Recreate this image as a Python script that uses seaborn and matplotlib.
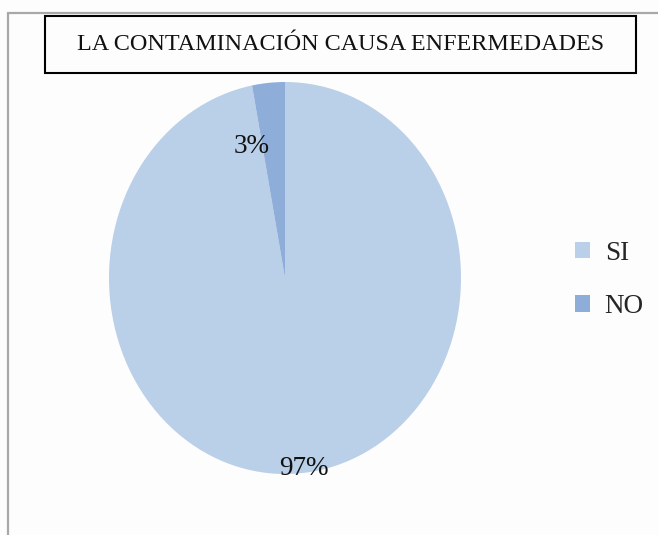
import matplotlib
matplotlib.use('Agg')
import matplotlib.pyplot as plt
import seaborn as sns
from matplotlib.patches import Rectangle

# datos del gráfico
categorias = ['SI', 'NO']
porcentajes = [97, 3]
etiquetas = ['97%', '3%']
titulo = 'LA CONTAMINACIÓN CAUSA ENFERMEDADES'

sns.set_theme(style='white')
plt.rcParams['font.family'] = ['Liberation Serif', 'DejaVu Serif']

colores = ['#bacfe8', '#8eaed9']

W, H = 658, 535
fig = plt.figure(figsize=(W / 100, H / 100), dpi=100)
fig.patch.set_facecolor('#fdfdfd')

# marco exterior gris (izquierda y arriba)
fig.add_artist(plt.Line2D([8 / W, 8 / W], [0, 1 - 13 / H], color='#a8a8a8', lw=1.6))
fig.add_artist(plt.Line2D([8 / W, 1], [1 - 13 / H, 1 - 13 / H], color='#a8a8a8', lw=1.6))

# caja del título
fig.add_artist(Rectangle((45 / W, 1 - 73 / H), (636 - 45) / W, (73 - 16) / H,
                         transform=fig.transFigure, fill=False, ec='black', lw=1.5))
fig.text(341 / W, 1 - 44 / H, titulo, ha='center', va='center', fontsize=17.4, color='#111111')

# pastel (ligeramente elíptico como el original escaneado)
cx, cy, pw, ph = 285, 278, 352, 392
ax = fig.add_axes([(cx - pw / 2) / W, 1 - (cy + ph / 2) / H, pw / W, ph / H])
wedges, _ = ax.pie(porcentajes, colors=colores, startangle=90, counterclock=False,
                   wedgeprops=dict(linewidth=0))
ax.set_aspect('auto')
ax.set_xlim(-1, 1)
ax.set_ylim(-1, 1)
ax.axis('off')

# etiquetas de porcentaje
ax.text(0.11, -0.97, etiquetas[0], ha='center', va='center', fontsize=19.5, color='#111111')
ax.text(-0.19, 0.67, etiquetas[1], ha='center', va='center', fontsize=19.5, color='#111111')

# leyenda
fig.legend(wedges, categorias, loc='center left', bbox_to_anchor=(556 / W, 1 - 280 / H),
           frameon=False, fontsize=19.5, handlelength=0.55, handleheight=0.55,
           handletextpad=0.55, labelspacing=1.05, borderpad=0.2)

plt.savefig('out.png', dpi=100, facecolor=fig.get_facecolor())
